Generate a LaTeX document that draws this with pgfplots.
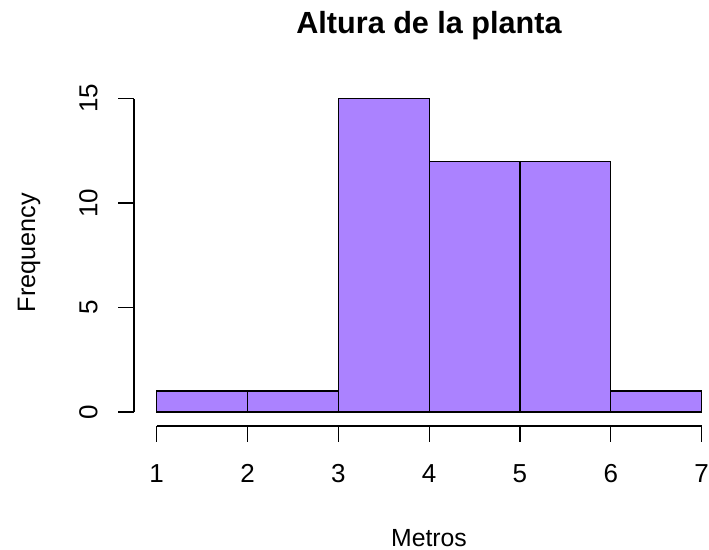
\documentclass[border=0pt]{standalone}
\usepackage{fontspec}
\setmainfont{Liberation Sans}
\usepackage{pgfplots}
\pgfplotsset{compat=1.18}
\definecolor{barfill}{HTML}{AB82FF}
\begin{document}
\begin{tikzpicture}[x=0.5pt,y=0.5pt]
\path[use as bounding box] (0,0) rectangle (709,550);
\begin{axis}[
  at={(134pt*0.5,124pt*0.5)}, anchor=south west,
  scale only axis, width=294.7pt, height=170pt,
  xmin=0.75, xmax=7.24, ymin=-0.67, ymax=15.6,
  axis x line*=bottom, axis y line*=left,
  axis line style={draw=none},
  xtick={1,2,3,4,5,6,7}, ytick={0,5,10,15},
  tick align=outside, major tick length=7.8pt,
  tick style={black, line width=0.65pt},
  /pgf/number format/assume math mode=true,
  ticklabel style={font=\fontsize{13}{15}\selectfont},
  xticklabel style={anchor=base},
  yticklabel style={rotate=90, anchor=base},
  xticklabel shift=20.7pt,
  yticklabel shift=10.5pt,
  clip=false,
]
\addplot[ybar interval, fill=barfill, draw=black, line width=0.65pt]
  coordinates {(1,1) (2,1) (3,15) (4,12) (5,12) (6,1) (7,1)};
\draw[black, line width=0.65pt] (axis cs:1,-0.67) -- (axis cs:7,-0.67);
\draw[black, line width=0.65pt] (axis cs:0.75,0) -- (axis cs:0.75,15);
\end{axis}
\node[anchor=base, font=\bfseries\fontsize{15.3}{18}\selectfont, inner sep=0pt] at (429,516.7) {Altura de la planta};
\node[anchor=base, font=\fontsize{12.4}{15}\selectfont, inner sep=0pt] at (429,3.3) {Metros};
\node[anchor=base, rotate=90, font=\fontsize{12.6}{15}\selectfont, inner sep=0pt] at (35,297.5) {Frequency};
\end{tikzpicture}
\end{document}
